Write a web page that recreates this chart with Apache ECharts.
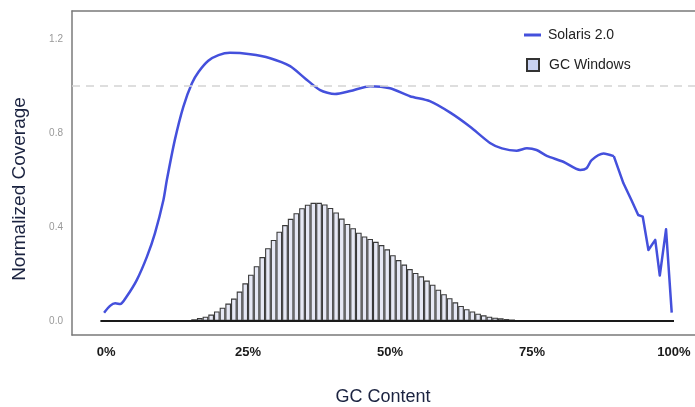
<!DOCTYPE html>
<html>
<head>
<meta charset="utf-8">
<script src="https://cdn.jsdelivr.net/npm/echarts@6/dist/echarts.min.js"></script>
<style>
html,body{margin:0;padding:0;background:#fff;}
#chart{width:695px;height:407px;}
</style>
</head>
<body>
<div id="chart"></div>
<script>
// Solaris 2.0 normalized coverage curve (x = GC %, y = coverage)
var solarisGC = [-0.35,0.7,1.6,2.5,3.6,5.4,7.2,8.6,10.1,10.7,12.1,13.6,15.1,16.3,18,19.8,21.8,25.4,28.9,32.4,35,37.7,40.3,43,46.5,50,53.5,57,60.6,64.1,67.6,69.7,72.3,74.1,75.8,77.6,80.5,83.5,84.6,85.5,87.6,89.4,91.1,92.5,93.7,94.5,95.5,96.7,97.5,98.6,99.6];
var solarisCoverage = [0.035,0.064,0.075,0.072,0.103,0.174,0.274,0.373,0.515,0.6,0.77,0.912,1.011,1.061,1.108,1.132,1.142,1.136,1.119,1.085,1.034,0.983,0.966,0.979,1.0,0.991,0.957,0.936,0.887,0.827,0.758,0.735,0.725,0.735,0.728,0.703,0.678,0.643,0.65,0.685,0.713,0.702,0.586,0.515,0.451,0.444,0.302,0.345,0.193,0.39,0.035];
// index where the curve turns jagged (drawn without smoothing from here)
var jaggedFrom = 41;
// GC window histogram, one value per 1% bin (0-1%, 1-2%, ... 99-100%)
var gcWindows = [
  0,0,0,0,0,0,0,0,0,0,
  0,0,0.001,0.002,0.004,0.007,0.012,0.018,0.027,0.04,
  0.056,0.074,0.095,0.125,0.16,0.197,0.233,0.272,0.31,0.345,
  0.38,0.408,0.435,0.459,0.48,0.495,0.503,0.503,0.496,0.481,
  0.462,0.436,0.413,0.395,0.376,0.36,0.349,0.337,0.323,0.305,
  0.28,0.259,0.24,0.221,0.204,0.19,0.172,0.154,0.133,0.114,
  0.097,0.079,0.064,0.05,0.04,0.031,0.024,0.018,0.014,0.011,
  0.008,0.006,0.004,0.003,0.002,0.001,0,0,0,0,
  0,0,0,0,0,0,0,0,0,0,
  0,0,0,0,0,0,0,0,0,0
];
var binWidth = 1;
var xTicks = [0,25,50,75,100];
var yTicks = [0,0.4,0.8,1.2];
var referenceLevel = 1.0;
var baselineRange = [-1,100];

var barData = gcWindows.map(function(v,i){ return [i*binWidth + binWidth/2, v]; });
var lineData = solarisGC.map(function(x,i){ return [x, solarisCoverage[i]]; });
var smoothPart = lineData.slice(0, jaggedFrom + 1);
var jaggedPart = lineData.slice(jaggedFrom);

var chart = echarts.init(document.getElementById('chart'), null, {renderer:'canvas'});
var font = 'Liberation Sans, Arial, Helvetica, sans-serif';
var frame = {show:true, onZero:false, lineStyle:{color:'#7a7a7a', width:1.5}};
var blue = '#4450dc';
chart.setOption({
  animation:false,
  backgroundColor:'#ffffff',
  grid:{left:72, top:11, right:0, bottom:72},
  xAxis:[
    {type:'value', min:-6, max:103.7, position:'bottom',
     axisLine:frame, axisTick:{show:false}, splitLine:{show:false},
     axisLabel:{customValues:xTicks, formatter:function(v){return v+'%';}, color:'#1a1a1a', fontWeight:'bold', fontSize:13, fontFamily:font, margin:11}
    },
    {type:'value', min:-6, max:103.7, position:'top',
     axisLine:frame, axisTick:{show:false}, splitLine:{show:false}, axisLabel:{show:false}}
  ],
  yAxis:{type:'value', min:-0.06, max:1.32,
    axisLine:frame, axisTick:{show:false}, splitLine:{show:false},
    axisLabel:{customValues:yTicks, formatter:function(v){return v.toFixed(1);}, color:'#999', fontSize:10, fontFamily:font, margin:9}
  },
  legend:[
    {data:['Solaris 2.0'], left:519, top:23, itemWidth:17, itemHeight:3, icon:'rect',
     textStyle:{color:'#222', fontSize:14, fontFamily:font, padding:[0,0,0,2]}},
    {data:[{name:'GC Windows', icon:'rect', itemStyle:{color:'#c9d3f3', borderColor:'#333', borderWidth:2}}],
     left:521, top:53, itemWidth:12, itemHeight:12,
     textStyle:{color:'#222', fontSize:14, fontFamily:font, padding:[0,0,0,5]}}
  ],
  graphic:[
    {type:'text', x:20, y:189, rotation:Math.PI/2, silent:true,
     style:{text:'Normalized Coverage', fill:'#1b2340', font:'19px '+font, textAlign:'center', textVerticalAlign:'middle'}},
    {type:'text', x:383, y:397, silent:true,
     style:{text:'GC Content', fill:'#1b2340', font:'18px '+font, textAlign:'center', textVerticalAlign:'middle'}}
  ],
  series:[
    {name:'GC Windows', type:'bar', data:barData, barWidth:'100%', barGap:'-100%',
     itemStyle:{color:'#e6e8f5', borderColor:'#3a3a3a', borderWidth:1.1}, silent:true, z:2},
    {name:'baseline', type:'line', data:[[baselineRange[0],0],[baselineRange[1],0]], symbol:'none',
     lineStyle:{color:'#1a1a1a', width:2}, silent:true, z:3},
    {name:'Solaris 2.0', type:'line', data:smoothPart, symbol:'none', smooth:0.25,
     itemStyle:{color:blue}, lineStyle:{color:blue, width:2.5}, z:4,
     markLine:{silent:true, symbol:'none', label:{show:false},
       lineStyle:{color:'#d4d4d4', type:[8,6], width:1.5},
       data:[{yAxis:referenceLevel}]}},
    {name:'Solaris 2.0', type:'line', data:jaggedPart, symbol:'none', smooth:false,
     itemStyle:{color:blue}, lineStyle:{color:blue, width:2.5, join:'round'}, z:4}
  ]
});
</script>
</body>
</html>
